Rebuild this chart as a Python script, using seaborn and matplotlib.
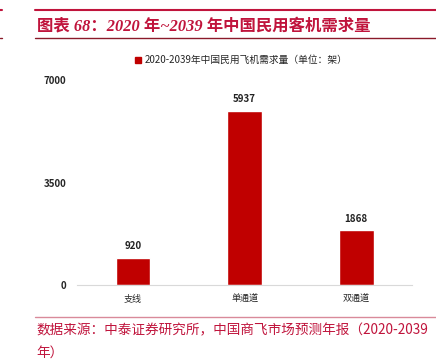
import numpy as np
import pandas as pd
import seaborn as sns
import matplotlib.pyplot as plt
from matplotlib.lines import Line2D

categories = ["支线", "单通道", "双通道"]
demand = [920, 5937, 1868]
series_name = "2020-2039年中国民用飞机需求量（单位：架）"
yticks = [0, 3500, 7000]

title_text = "图表 68：2020 年~2039 年中国民用客机需求量"
source_lines = ["数据来源：中泰证券研究所，中国商飞市场预测年报（2020-2039", "年）"]

sns.set_theme(style="white")
plt.rcParams['font.family'] = ['Noto Sans CJK SC', 'DejaVu Sans']

bar_color = "#C00000"
red_text = "#C0143C"

df = pd.DataFrame({"type": categories, "demand": demand})

fig = plt.figure(figsize=(4.36, 3.62), dpi=100)
ax = fig.add_axes([0.177, 0.2127, 0.768, 0.566])

sns.barplot(data=df, x="type", y="demand", color=bar_color, width=0.31,
            saturation=1, ax=ax)

ax.set_ylim(0, 7000)
ax.set_yticks(yticks)
ax.set_yticklabels([str(t) for t in yticks], fontsize=7, fontweight="bold")
ax.set_xlabel("")
ax.set_ylabel("")
ax.tick_params(axis="x", labelsize=6.5, pad=7, length=0)
ax.tick_params(axis="y", pad=8, length=0)
for s in ["top", "right", "left"]:
    ax.spines[s].set_visible(False)
ax.spines["bottom"].set_color("#d9d9d9")
ax.spines["bottom"].set_linewidth(0.8)

for p, v in zip(ax.patches, demand):
    ax.text(p.get_x() + p.get_width() / 2, v + 230, str(v), ha="center",
            va="bottom", fontsize=7, fontweight="bold", color="#222222")

handles = [plt.Rectangle((0, 0), 1, 1, color=bar_color)]
ax.legend(handles, [series_name], loc="lower center", bbox_to_anchor=(0.49, 1.03),
          frameon=False, fontsize=7, handlelength=0.6, handleheight=0.6,
          handletextpad=0.4)

# header rules and title
fig.add_artist(Line2D([0.08, 1.0], [0.972, 0.972], color=red_text, lw=1.5))
fig.add_artist(Line2D([0.08, 1.0], [0.895, 0.895], color="#8a1a2a", lw=1.0))
fig.add_artist(Line2D([0.0, 0.005], [0.972, 0.972], color=red_text, lw=1.5))
fig.add_artist(Line2D([0.0, 0.005], [0.895, 0.895], color="#8a1a2a", lw=1.0))
fig.text(0.085, 0.926, title_text, fontsize=11.8, color=red_text,
         fontweight="bold", style="italic", va="center",
         family=['Liberation Serif', 'Noto Sans CJK SC'])

# footer
fig.add_artist(Line2D([0.08, 1.0], [0.124, 0.124], color="#d98a9a", lw=1.0))
fig.text(0.083, 0.088, source_lines[0], fontsize=9.8, color=red_text, va="center")
fig.text(0.083, 0.025, source_lines[1], fontsize=9.8, color=red_text, va="center")

fig.savefig("out.png", dpi=100)
